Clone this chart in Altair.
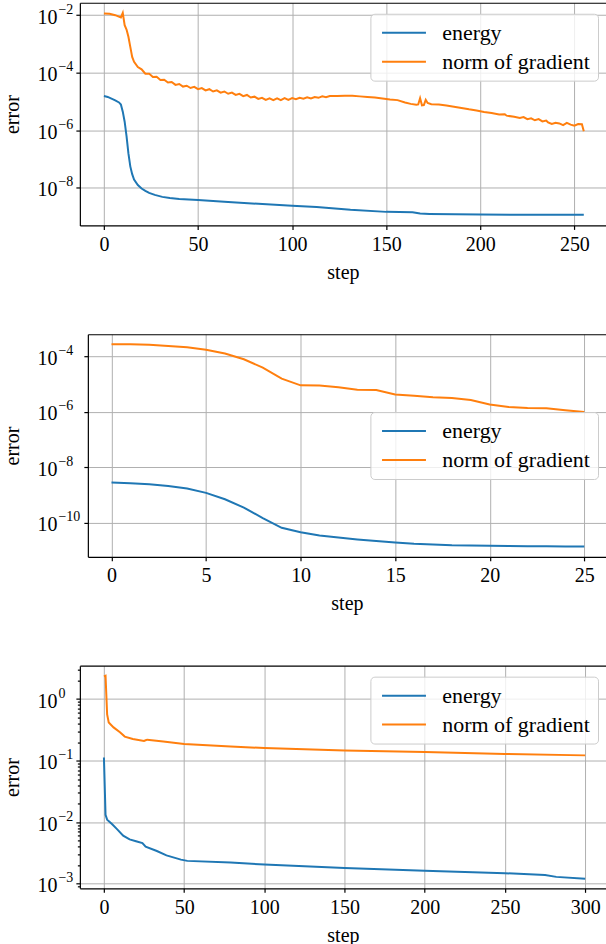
import altair as alt
import pandas as pd

FONT = "Liberation Serif"
BLUE = "#1f77b4"
ORANGE = "#ff7f0e"
SERIES = ["energy", "norm of gradient"]

# ---------------- Panel 1 (values are log10 of the error) ----------------
p1_energy_steps = [0, 2, 4, 6, 8, 9, 10, 11, 12, 13, 14, 15, 16, 18, 20, 22, 24, 27, 31, 35,
                   40, 50, 66, 82, 100, 113, 131, 150, 164, 168, 173, 200, 225, 255]
p1_energy_log10 = [-4.81, -4.84, -4.90, -4.96, -5.03, -5.10, -5.35, -5.70, -6.20, -6.80, -7.25,
                   -7.52, -7.71, -7.90, -8.02, -8.10, -8.17, -8.24, -8.31, -8.35,
                   -8.38, -8.42, -8.49, -8.55, -8.62, -8.66, -8.76, -8.83, -8.84, -8.89, -8.90,
                   -8.92, -8.93, -8.93]

p1_grad_steps = [0, 3, 6, 9, 10, 11, 12, 13, 14, 15, 16, 18,
                 20, 22, 24, 26, 28, 30, 32, 34, 36, 38, 40, 42, 44, 46, 48, 50, 52, 54, 56, 58,
                 60, 62, 64, 66, 68, 70, 72, 74, 76, 78, 80, 82, 84, 86, 88, 90, 92, 94, 96, 98,
                 100, 102, 104, 106, 108, 110, 112, 114, 116, 118, 120,
                 124, 128, 132, 136, 140, 144, 148, 152, 156, 160, 163, 166, 167, 168, 169, 170,
                 171, 172, 174, 178, 182, 186, 190, 194, 198, 202, 206, 210, 213, 214, 218, 221,
                 223, 225, 227, 229, 231, 233, 235, 236, 238, 240, 242, 244, 246, 248, 250, 252,
                 254, 255]
p1_grad_log10 = [-1.94, -1.95, -2.00, -2.08, -1.92, -2.35, -2.50, -2.75, -3.10, -3.45, -3.62, -3.80,
                 -3.88, -4.03, -4.03, -4.15, -4.14, -4.25, -4.24, -4.34, -4.32, -4.42, -4.39, -4.48,
                 -4.45, -4.53, -4.49, -4.57, -4.53, -4.61, -4.57, -4.65,
                 -4.61, -4.69, -4.65, -4.73, -4.69, -4.77, -4.73, -4.81, -4.77, -4.86, -4.83, -4.91,
                 -4.87, -4.94, -4.89, -4.95, -4.89, -4.95, -4.88, -4.94,
                 -4.88, -4.92, -4.87, -4.90, -4.85, -4.89, -4.84, -4.87, -4.82, -4.85, -4.81,
                 -4.81, -4.80, -4.80, -4.82, -4.84, -4.86, -4.89, -4.93, -4.95, -5.03, -5.08, -5.11,
                 -5.10, -4.88, -5.13, -5.12,
                 -4.94, -5.05, -5.09, -5.10, -5.14, -5.18, -5.22, -5.27, -5.31, -5.36, -5.40, -5.45,
                 -5.44, -5.49, -5.53, -5.57,
                 -5.54, -5.61, -5.58, -5.65, -5.61, -5.69, -5.66, -5.72, -5.78, -5.74, -5.76, -5.82,
                 -5.74, -5.80, -5.84, -5.78, -5.79, -6.03]

# ---------------- Panel 2 ----------------
p2_steps = list(range(26))
p2_energy_log10 = [-8.555, -8.58, -8.62, -8.68, -8.77, -8.93, -9.16, -9.46, -9.84, -10.19, -10.35,
                   -10.47, -10.54, -10.61, -10.67, -10.72, -10.77, -10.79, -10.82, -10.83, -10.84,
                   -10.85, -10.86, -10.86, -10.87, -10.87]
p2_grad_log10 = [-3.567, -3.57, -3.59, -3.63, -3.68, -3.77, -3.90, -4.11, -4.41, -4.81, -5.05,
                 -5.06, -5.12, -5.21, -5.22, -5.38, -5.43, -5.48, -5.51, -5.58, -5.74, -5.83,
                 -5.87, -5.88, -5.95, -6.01]

# ---------------- Panel 3 ----------------
p3_energy_steps = [0, 1, 2, 5, 8, 12, 16, 20, 24, 26, 33, 39, 48, 52, 79, 100, 150, 200, 250, 275,
                   282, 300]
p3_energy_log10 = [-0.948, -1.88, -1.96, -2.03, -2.11, -2.22, -2.28, -2.31, -2.34, -2.40, -2.47,
                   -2.54, -2.61, -2.63, -2.655, -2.69, -2.745, -2.79, -2.83, -2.86, -2.89, -2.92]
p3_grad_steps = [0, 1, 2, 3, 6, 10, 13, 18, 25, 26, 27, 37, 50, 79, 100, 150, 200, 250, 300]
p3_grad_log10 = [0.37, 0.38, -0.25, -0.38, -0.46, -0.54, -0.61, -0.65, -0.68, -0.67, -0.66, -0.69,
                 -0.73, -0.77, -0.796, -0.834, -0.861, -0.893, -0.915]


def frame(e_steps, e_log, g_steps, g_log):
    rows = [{"step": s, "value": 10 ** v, "series": "energy"} for s, v in zip(e_steps, e_log)]
    rows += [{"step": s, "value": 10 ** v, "series": "norm of gradient"} for s, v in zip(g_steps, g_log)]
    return pd.DataFrame(rows)


def panel(df, xdom, xvals, ylog, exps, minor, width, height, lx, ly, pad, shift):
    xscale = alt.Scale(domain=xdom, nice=False, zero=False, range=[shift, width])
    yscale = alt.Scale(type="log", domain=[10 ** ylog[0], 10 ** ylog[1]], nice=False)
    ex = "round(log(datum.value)/LN10)"
    exp_chain = "".join(
        f"{ex} == {e} ? '{str(e).replace('-', chr(0x2212))}' : " for e in exps
    ) + "''"
    yvals = sorted([10.0 ** e for e in exps])

    # base "10" of each power-of-ten label
    lines = alt.Chart(df).mark_line(strokeWidth=2, clip=True).encode(
        x=alt.X("step:Q", scale=xscale,
                axis=alt.Axis(values=xvals, format="d", title="step", tickSize=4,
                              labelPadding=5, titlePadding=8)),
        y=alt.Y("value:Q", scale=yscale,
                axis=alt.Axis(values=yvals, labelExpr="'10'", title="error", tickSize=4,
                              labelPadding=pad + 1, labelOffset=2, titlePadding=14,
                              offset=-shift)),
        color=alt.Color("series:N", scale=alt.Scale(domain=SERIES, range=[BLUE, ORANGE]),
                        legend=alt.Legend(orient="none", legendX=lx, legendY=ly, title=None)),
    )
    # exponents (smaller, raised) + top spine
    expo = alt.Chart(df).mark_line(opacity=0).encode(
        x=alt.X("step:Q", scale=xscale,
                axis=alt.Axis(orient="top", labels=False, ticks=False, grid=False,
                              domain=True, title=None)),
        y=alt.Y("value:Q", scale=yscale,
                axis=alt.Axis(orient="left", values=yvals, labelExpr=exp_chain, grid=False,
                              domain=False, ticks=True, tickSize=4, tickOpacity=0,
                              labelAlign="left", labelPadding=pad, labelFontSize=14,
                              labelOffset=-6, title=None, offset=-shift)),
    )
    layers = [lines, expo]
    if minor:
        layers.append(alt.Chart(df).mark_line(opacity=0).encode(
            x=alt.X("step:Q", scale=xscale, axis=None),
            y=alt.Y("value:Q", scale=yscale,
                    axis=alt.Axis(orient="left", values=minor, labels=False, grid=False,
                                  domain=False, ticks=True, tickSize=2.5, title=None)),
        ))
    return alt.layer(*layers).resolve_axis(x="independent", y="independent").properties(
        width=width, height=height)


p1 = panel(frame(p1_energy_steps, p1_energy_log10, p1_grad_steps, p1_grad_log10),
           [-12.8, 266.8], [0, 50, 100, 150, 200, 250], [-9.30, -1.57],
           [-2, -4, -6, -8], [], 527, 223, 291, 11, 18, 0)
p2 = panel(frame(p2_steps, p2_energy_log10, p2_steps, p2_grad_log10),
           [-1.25, 26.15], [0, 5, 10, 15, 20, 25], [-11.24, -3.206],
           [-4, -6, -8, -10], [], 527, 223, 291, 78, 26, 8)
minor3 = [m * 10.0 ** k for k in (-4, -3, -2, -1, 0) for m in range(2, 10)]
minor3 = [v for v in minor3 if 10 ** -3.076 <= v <= 10 ** 0.543]
p3 = panel(frame(p3_energy_steps, p3_energy_log10, p3_grad_steps, p3_grad_log10),
           [-15, 313], [0, 50, 100, 150, 200, 250, 300], [-3.076, 0.543],
           [0, -1, -2, -3], minor3, 527, 223, 291, 11, 18, 0)

chart = alt.ConcatChart(concat=[p1, p2, p3], columns=1, align="none", spacing=52).resolve_scale(
    color="independent", x="independent", y="independent"
).resolve_legend(color="independent").properties(
    padding={"left": 3, "top": 1, "right": 0, "bottom": 0}
).configure_view(stroke=None).configure_axis(
    labelFont=FONT, titleFont=FONT, labelFontSize=20, titleFontSize=20, titleFontWeight="normal",
    labelColor="black", titleColor="black", domainColor="black", tickColor="black",
    gridColor="#b0b0b0", gridWidth=1, domainWidth=1.2, tickWidth=1.2,
).configure_legend(
    labelFont=FONT, labelFontSize=22, labelColor="black", symbolType="M-1,0H5",
    symbolStrokeWidth=2, symbolSize=215, padding=8, rowPadding=7, labelOffset=42,
    fillColor="rgba(255,255,255,0.8)", strokeColor="#cccccc", cornerRadius=4,
)

chart.save("out.html", embed_options={"renderer": "svg", "actions": False})
